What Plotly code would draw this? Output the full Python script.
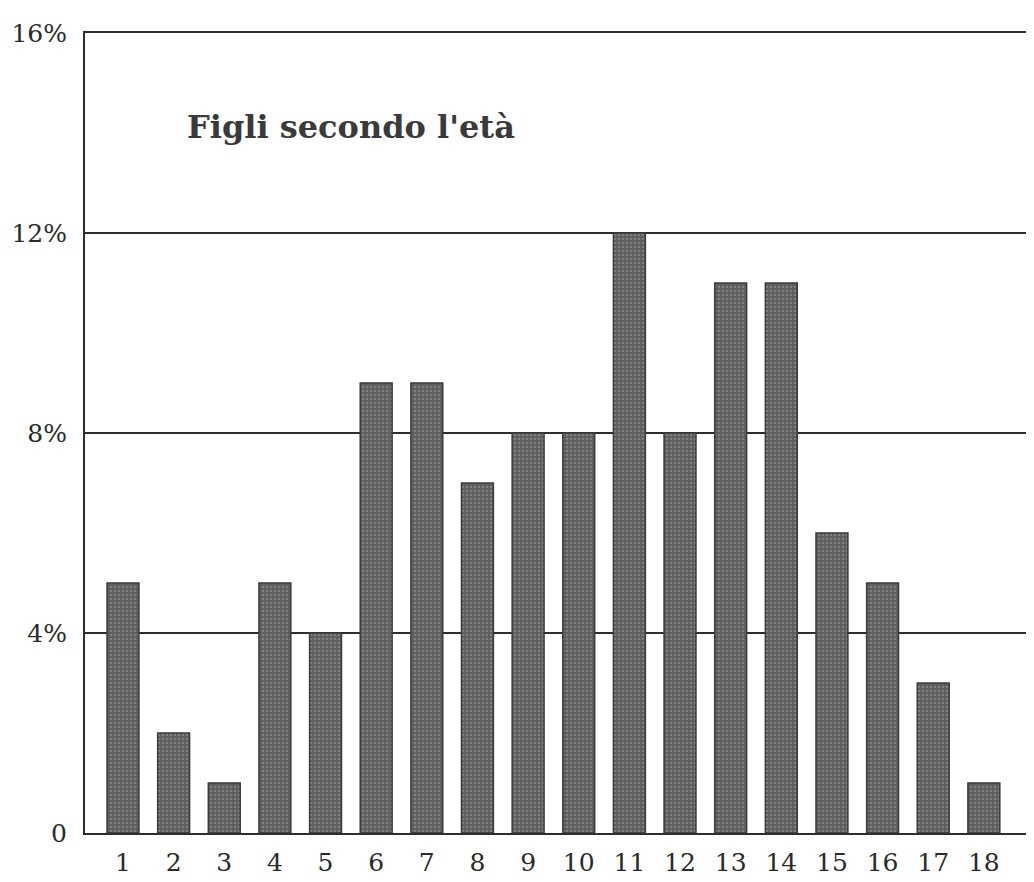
import plotly.graph_objects as go

AGES = list(range(1, 19))
AGE_LABELS = [str(a) for a in AGES]
SHARE_PCT = [5, 2, 1, 5, 4, 9, 9, 7, 8, 8, 12, 8, 11, 11, 6, 5, 3, 1]
Y_TICKS = [0, 4, 8, 12, 16]
Y_TICK_LABELS = ["0", "4%", "8%", "12%", "16%"]

SERIF = "DejaVu Serif, Liberation Serif, serif"
INK = "#2e2e2e"

fig = go.Figure(
    go.Bar(
        x=AGES,
        y=SHARE_PCT,
        width=0.63,
        marker=dict(
            color="#666666",
            line=dict(color="#3a3a3a", width=1.5),
            pattern=dict(shape=".", fgcolor="#a4a4a4", bgcolor="#5c5c5c",
                         size=4, solidity=0.35),
        ),
        hovertemplate="%{x} anni: %{y}%<extra></extra>",
    )
)

# the page body has an 8px margin, so the margins are shifted to compensate
fig.update_layout(
    width=1034,
    height=882,
    paper_bgcolor="white",
    plot_bgcolor="white",
    showlegend=False,
    margin=dict(l=77, r=8, t=25, b=57),
    font=dict(family=SERIF, color="#2a2a2a", size=25),
    annotations=[
        dict(text="<b>Figli secondo l'età</b>", x=0.105, y=0.8825,
             xref="paper", yref="paper", xanchor="left", yanchor="middle",
             showarrow=False, font=dict(size=32, color="#3a3a3a")),
    ],
)

fig.update_xaxes(
    range=[0.25, 18.99],
    tickmode="array",
    tickvals=AGES,
    ticktext=AGE_LABELS,
    showgrid=False,
    zeroline=False,
    showline=True,
    mirror=True,
    linecolor=INK,
    linewidth=2,
    ticks="",
    ticklabelstandoff=6,
    automargin=False,
)
fig.update_yaxes(
    range=[0, 16],
    tickmode="array",
    tickvals=Y_TICKS,
    ticktext=Y_TICK_LABELS,
    showgrid=True,
    gridcolor=INK,
    gridwidth=2,
    zeroline=False,
    showline=True,
    linecolor=INK,
    linewidth=2,
    ticks="",
    ticklabelstandoff=11,
    automargin=False,
)

fig.write_html("out.html")
